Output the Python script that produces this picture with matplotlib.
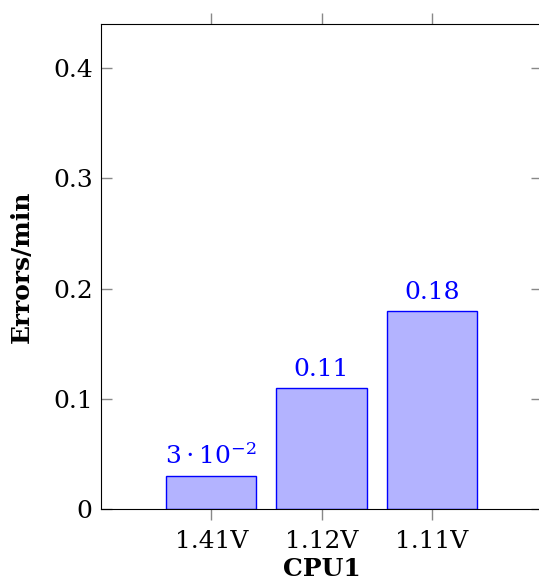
import numpy as np
import matplotlib.pyplot as plt

categories = ['1.41V', '1.12V', '1.11V']
errors = [0.03, 0.11, 0.18]
bar_labels = [r'$3\cdot10^{-2}$', '0.11', '0.18']

plt.rcParams['font.family'] = 'DejaVu Serif'
plt.rcParams['mathtext.fontset'] = 'dejavuserif'

fig = plt.figure(figsize=(5.39, 5.85), dpi=100)
ax = fig.add_axes([101 / 539, 76 / 585, 441 / 539, 485 / 585])

x = np.arange(len(categories))
bars = ax.bar(x, errors, width=0.82, color='#b3b3ff', edgecolor='blue', linewidth=1)
ax.bar_label(bars, labels=bar_labels, color='blue', fontsize=18, padding=5)

ax.set_xlim(-1, 3)
ax.set_ylim(0, 0.44)
ax.set_xticks(x)
ax.set_xticklabels(categories)
ax.set_yticks([0, 0.1, 0.2, 0.3, 0.4])
ax.set_yticklabels(['0', '0.1', '0.2', '0.3', '0.4'])
ax.tick_params(axis='both', labelsize=18, color='#888888', length=8, width=1)
ax.tick_params(axis='x', direction='out', top=True, bottom=True, pad=7)
ax.tick_params(axis='y', direction='in', left=True, right=True, pad=6)

ax.set_xlabel('CPU1', fontweight='bold', fontsize=18, labelpad=3)
ax.set_ylabel('Errors/min', fontweight='bold', fontsize=18, labelpad=14)

fig.savefig('out.png')
